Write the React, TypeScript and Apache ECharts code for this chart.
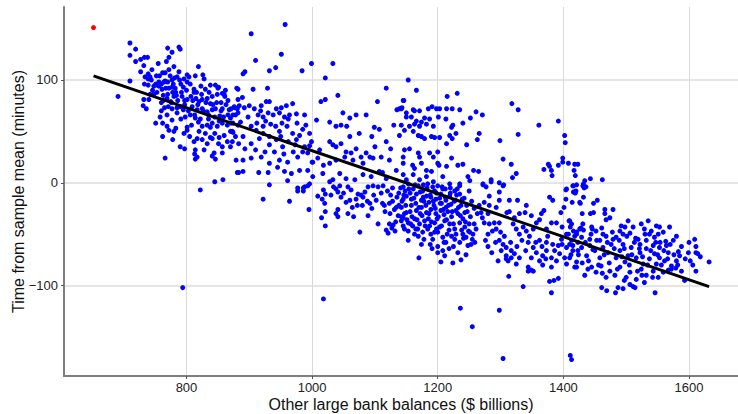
import React, { useEffect, useRef } from "react";
import * as echarts from "echarts";

// x: other large bank balances ($ billions), y: time from sample mean (minutes)
const xTicks = [800, 1000, 1200, 1400, 1600];
const yTicks = [-100, 0, 100];

const redPoint = [[652, 151]];

const fitLine = [[652, 104], [1632, -101]];

const pointsA = [
  [710,136],[719,130],[710,124],[719,118],[727,120],[733,122],[738,122],[732,114],[755,116],[770,131],
  [777,127],[788,132],[790,130],[772,122],[768,118],[780,113],[772,110],[766,107],[762,107],[756,98],
  [710,99],[691,84],[739,106],[739,101],[742,103],[734,103],[733,96],[739,95],[751,96],[754,95],
  [746,90],[742,86],[732,81],[740,81],[731,75],[736,72],[756,94],[761,91],[764,98],[766,99],
  [772,92],[777,93],[782,92],[777,100],[781,102],[785,103],[789,100],[796,101],[769,82],[775,79],
  [780,84],[784,85],[765,73],[771,74],[777,72],[785,73],[790,74],[795,71],[758,64],[769,66],
  [777,61],[785,68],[798,64],[751,58],[769,55],[772,51],[783,53],[762,45],[780,50],[796,48],
  [790,35],[797,33],[766,24],[760,78],[748,86],[792,88],[786,80],[778,88],[763,85],[770,98],
  [795,93],[797,80],[791,62],[760,70],[745,110],[727,108],[752,104],[794,-102]
];

const pointsB = [
  [801,105],[804,103],[819,113],[814,104],[826,105],[828,101],[801,98],[801,81],[807,84],[815,82],
  [820,79],[825,81],[812,91],[823,94],[830,91],[838,95],[846,95],[851,93],[833,82],[841,84],
  [849,86],[857,87],[861,84],[809,74],[817,71],[825,72],[833,69],[841,71],[846,72],[857,72],
  [868,71],[876,74],[881,72],[806,66],[814,63],[819,59],[825,55],[833,56],[841,58],[849,55],
  [857,58],[865,56],[801,51],[801,54],[812,40],[817,43],[825,42],[814,32],[813,28],[817,25],
  [814,23],[828,32],[833,38],[841,43],[851,38],[857,35],[865,40],[844,29],[841,26],[846,23],
  [857,29],[870,35],[873,40],[881,10],[845,1],[858,3],[822,-7],[873,50],[878,45],[882,56],
  [877,73],[882,81],[860,86],[862,90],[850,92],[880,92],[882,91],[889,83],[890,106],[893,108],
  [883,10],[890,11],[871,72],[884,75],[892,73],[874,66],[882,68],[898,64],[871,58],[886,59],
  [874,49],[890,45],[883,38],[893,33],[879,22],[890,22],[835,62],[853,65],[870,63],[830,48],
  [845,48],[860,46],[838,77],[855,78],[812,88],[808,56],[836,88],[866,80]
];

const pointsC = [
  [903,145],[957,154],[951,125],[910,119],[932,109],[942,112],[984,109],[999,116],[906,91],[929,92],
  [900,75],[908,72],[919,75],[927,79],[932,79],[943,72],[951,73],[959,75],[969,77],[914,66],
  [922,64],[930,68],[938,66],[948,68],[956,64],[964,66],[975,67],[988,66],[903,55],[912,58],
  [922,55],[934,57],[942,55],[952,58],[960,55],[976,58],[990,56],[911,51],[922,48],[932,45],
  [948,50],[969,48],[980,46],[996,48],[903,38],[916,43],[932,37],[943,42],[953,35],[962,40],
  [973,37],[988,35],[985,30],[996,36],[903,24],[919,25],[932,19],[948,22],[961,20],[977,25],
  [993,29],[956,11],[967,9],[980,12],[993,12],[932,-2],[961,2],[977,-5],[988,-4],[996,-1],
  [922,-16],[964,-18],[977,-8],[986,-5],[986,-8],[993,-3],[995,-26],[940,30],[925,30],[955,28],
  [970,30],[910,32],[945,15],[930,10],[915,10],[962,62],[918,70],[926,60],[950,45],[985,52],
  [975,42],[999,40],[1000,20]
];

const pointsD = [
  [1033,116],[1021,102],[1041,85],[1014,79],[1021,81],[1104,79],[1118,92],[1145,80],[1135,71],[1139,72],
  [1143,73],[1150,64],[1007,61],[1028,59],[1049,68],[1060,63],[1070,66],[1086,66],[1038,55],[1046,56],
  [1055,55],[1099,54],[1107,52],[1130,56],[1012,32],[1028,40],[1033,37],[1038,35],[1046,38],[1054,30],
  [1062,29],[1070,33],[1078,25],[1086,29],[1092,25],[1009,24],[1018,17],[1001,20],[1028,19],[1038,22],
  [1052,25],[1065,22],[1081,19],[1097,24],[1110,25],[1123,22],[1145,25],[1001,6],[1017,9],[1033,3],
  [1044,9],[1054,4],[1068,3],[1081,8],[1094,6],[1107,11],[1118,4],[1134,12],[1145,8],[1009,-13],
  [1016,-16],[1021,-11],[1018,-7],[1015,-34],[1021,-28],[1021,-42],[1028,1],[1034,-4],[1038,-6],[1044,-3],
  [1041,-9],[1046,-14],[1041,-26],[1038,-30],[1041,-33],[1057,-30],[1066,-33],[1072,-22],[1076,-48],[1057,-4],
  [1062,-7],[1073,-11],[1078,-12],[1084,-9],[1089,-4],[1097,-3],[1105,-4],[1113,-3],[1054,-19],[1060,-17],
  [1070,-16],[1081,-14],[1092,-20],[1102,-17],[1115,-22],[1123,-20],[1134,-24],[1145,-16],[1089,-32],[1105,-40],
  [1118,-46],[1121,-49],[1132,-47],[1142,-37],[1147,-45],[1123,-40],[1129,-41],[1137,-32],[1142,-33],[1147,-30],
  [1018,-113],[1095,45],[1075,48],[1118,40],[1125,33],[1060,45],[1100,35],[1112,10],[1128,-5],[1138,-10],
  [1125,-12],[1110,-10],[1095,-25],[1088,-18]
];

const pointsE = [
  [1153,100],[1166,90],[1146,80],[1231,87],[1215,84],[1142,72],[1150,68],[1161,71],[1163,70],[1171,70],
  [1185,72],[1191,74],[1198,72],[1203,72],[1214,72],[1223,72],[1235,71],[1158,64],[1166,60],[1174,59],
  [1179,63],[1187,62],[1201,64],[1213,62],[1224,56],[1240,58],[1252,63],[1261,69],[1271,66],[1142,56],
  [1155,55],[1163,57],[1171,55],[1182,57],[1193,55],[1222,54],[1139,46],[1147,51],[1161,50],[1169,46],
  [1174,45],[1179,43],[1190,45],[1195,44],[1203,44],[1214,38],[1219,46],[1223,43],[1229,48],[1266,48],
  [1263,42],[1246,37],[1147,32],[1155,33],[1169,29],[1171,25],[1187,29],[1193,25],[1200,30],[1145,19],
  [1160,17],[1163,14],[1174,19],[1182,12],[1190,11],[1200,19],[1202,17],[1214,16],[1222,24],[1232,17],
  [1240,18],[1248,6],[1257,12],[1265,11],[1150,3],[1161,8],[1171,3],[1182,6],[1193,1],[1208,6],
  [1219,-1],[1235,-1],[1251,2],[1272,-1],
  [1145,-4],[1153,-1],[1161,-6],[1169,-3],[1176,-8],[1184,-1],[1192,-4],[1200,-3],[1208,-6],[1150,-13],
  [1158,-16],[1166,-11],[1174,-17],[1182,-13],[1189,-14],[1197,-16],[1205,-11],[1213,-17],[1219,-13],[1227,-8],
  [1235,-3],[1235,-11],[1142,-24],[1150,-29],[1158,-22],[1166,-27],[1174,-24],[1182,-29],[1189,-26],[1197,-30],
  [1205,-27],[1213,-24],[1221,-21],[1229,-27],[1237,-22],[1243,-29],[1145,-34],[1153,-39],[1163,-35],[1171,-40],
  [1179,-37],[1187,-42],[1195,-39],[1203,-43],[1211,-37],[1219,-40],[1227,-45],[1235,-39],[1243,-43],[1251,-48],
  [1153,-47],[1163,-50],[1169,-52],[1153,-56],[1189,-50],[1200,-48],[1208,-53],[1213,-58],[1227,-55],[1235,-58],
  [1245,-53],[1253,-60],[1191,-64],[1200,-62],[1208,-66],[1211,-71],[1205,-77],[1224,-78],[1237,-75],[1170,-73],
  [1248,-61],[1148,-8],[1156,-10],[1165,-20],[1172,-30],[1178,-18],[1186,-19],[1194,-22],[1199,-35],[1206,-20],
  [1210,-31],[1216,-28],[1222,-33],[1228,-17],[1232,-30],[1240,-35],[1246,-22],[1250,-40],[1160,-42],[1168,-45],
  [1176,-48],[1184,-45],[1192,-55],[1198,-45],[1215,-50],[1225,-62],[1240,-50],[1255,-55],[1185,-35],[1177,-2],
  [1195,-8],[1203,-15],[1212,-6],[1220,-5],[1230,-12],[1242,-15],[1250,-8],[1258,-25],[1258,-40]
];

const pointsF = [
  [1318,77],[1328,71],[1299,41],[1328,47],[1304,23],[1317,18],[1325,9],[1319,5],[1285,3],[1298,0],
  [1305,-2],[1361,56],[1392,60],[1402,46],[1403,39],[1399,24],[1399,20],[1369,13],[1376,18],[1378,16],
  [1381,12],[1382,7],[1392,17],[1408,19],[1418,18],[1423,18],[1417,12],[1419,7],[1416,-3],[1421,-2],
  [1405,-6],[1443,4],[1462,3],[1432,-1],[1436,-4],[1433,-5],
  [1236,-122],[1255,-140],[1298,-124],[1304,-171],[1336,-101],[1381,-107],[1378,-96],[1385,-95],[1392,-93],[1411,-168],
  [1413,-172],[1313,-91],[1344,-86],[1352,-86],[1296,-76],[1309,-74],[1317,-73],[1280,-62],
  [1272,-2],[1285,1],[1304,-3],[1266,-22],[1269,-29],[1271,-34],[1280,-30],[1282,-22],[1293,-24],[1298,-17],
  [1314,-17],[1310,-29],[1298,-39],[1290,-39],[1282,-40],[1274,-39],[1280,-50],[1287,-47],[1293,-45],[1298,-56],
  [1304,-60],[1309,-63],[1317,-66],[1301,-66],[1309,-71],[1322,-69],[1330,-73],[1325,-79],[1312,-76],[1320,-40],
  [1325,-45],[1330,-50],[1336,-43],[1341,-47],[1346,-52],[1352,-45],[1344,-58],[1352,-63],[1357,-68],[1349,-73],
  [1362,-76],[1367,-71],[1373,-66],[1381,-73],[1389,-76],[1394,-69],[1402,-73],[1405,-79],[1410,-73],[1418,-82],
  [1421,-77],[1381,-82],[1367,-80],[1344,-82],[1349,-85],[1362,-56],[1373,-58],[1383,-60],[1392,-61],[1405,-63],
  [1415,-61],[1423,-66],[1375,-52],[1397,-55],[1413,-56],[1322,-34],[1330,-30],[1339,-29],[1349,-32],[1357,-39],
  [1365,-30],[1369,-27],[1362,-36],[1314,-28],[1378,-14],[1383,-17],[1401,-24],[1396,-29],[1404,-16],[1404,-7],
  [1415,-3],[1419,-10],[1414,-19],[1426,-19],[1409,-37],[1411,-43],[1398,-43],[1389,-39],[1381,-39],[1405,-50],
  [1421,-50],[1282,-13],[1274,-19],[1298,-9],[1277,-4],[1327,-17],[1341,-22],[1373,-45]
];

const pointsG = [
  [1431,-3],[1434,2],[1416,-9],[1420,-8],[1432,-14],[1427,-20],[1430,-30],[1443,-30],[1448,-29],[1448,-20],
  [1454,-17],[1466,-26],[1479,-26],[1466,-30],[1468,-36],[1410,-37],[1413,-40],[1431,-40],[1426,-45],[1432,-46],
  [1445,-43],[1446,-45],[1452,-47],[1463,-50],[1416,-47],[1421,-48],[1492,-42],[1498,-43],[1495,-50],[1506,-49],
  [1515,-54],[1519,-55],[1537,-50],[1540,-47],[1545,-53],[1553,-43],[1551,-50],[1554,-58],[1563,-57],[1575,-56],
  [1609,-55],[1611,-62],[1599,-68],[1611,-68],[1614,-69],[1602,-76],[1632,-77],[1611,-86],[1583,-67],[1593,-95],
  [1579,-83],[1572,-84],[1567,-85],[1553,-73],[1546,-107],[1461,-102],[1469,-105],[1483,-107],[1487,-102],[1495,-103],
  [1497,-95],[1506,-99],[1511,-101],[1514,-102],[1529,-97],
  [1410,-60],[1415,-66],[1423,-58],[1429,-63],[1437,-71],[1442,-61],[1450,-66],[1458,-73],[1463,-63],[1471,-68],
  [1476,-60],[1484,-73],[1490,-66],[1498,-77],[1503,-71],[1508,-63],[1516,-73],[1522,-68],[1527,-79],[1532,-64],
  [1537,-74],[1545,-69],[1548,-79],[1553,-63],[1561,-76],[1567,-68],[1572,-81],[1580,-76],[1585,-71],
  [1421,-82],[1434,-90],[1439,-84],[1452,-87],[1460,-81],[1468,-92],[1474,-86],[1482,-90],[1490,-82],[1500,-92],
  [1506,-87],[1516,-94],[1524,-84],[1532,-90],[1543,-86],[1551,-92],[1559,-87],
  [1474,-34],[1484,-53],[1490,-47],[1503,-37],[1511,-43],[1524,-40],[1529,-45],[1535,-37],[1548,-42],[1559,-48],
  [1569,-43],[1580,-52],[1564,-61],[1543,-61],[1532,-56],[1522,-60],[1495,-60],[1479,-55],[1468,-52],[1458,-56],
  [1442,-55],[1429,-53]
];

const pointsCoreMid = [
  [1112,-20],[1116,-28],[1120,-8],[1124,-30],[1128,-18],[1131,-26],[1135,-14],[1138,-22],[1141,-5],[1143,-18],
  [1146,-12],[1149,-22],[1151,-36],[1154,-6],[1156,-28],[1159,-33],[1162,-15],[1164,-2],[1167,-36],[1170,-24],
  [1172,-9],[1175,-32],[1177,-14],[1180,-42],[1181,-22],[1183,-5],[1186,-30],[1188,-12],[1190,-38],[1193,-18],
  [1196,-25],[1198,-10],[1201,-33],[1204,-20],[1206,-42],[1207,-4],[1209,-26],[1212,-14],[1214,-36],[1217,-22],
  [1218,-46],[1220,-10],[1223,-28],[1225,-40],[1226,-18],[1229,-50],[1231,-6],[1233,-24],[1236,-32],[1238,-46],
  [1239,-16],[1241,-54],[1244,-38],[1247,-28],[1249,-47],[1252,-33],[1254,-18],[1256,-50],[1259,-58],[1261,-45],
  [1263,-30],[1165,-45],[1178,-55],[1195,-48],[1210,-58],[1222,-52],[1188,-60],[1157,-40],[1145,-42],[1133,-38],
  [1127,-44],[1174,-60],[1200,-68],[1218,-64],[1232,-68],[1245,-70],
  [1276,-56],[1286,-68],[1292,-58],[1300,-48],[1306,-52],[1316,-58],[1326,-62],[1334,-56],[1340,-66],[1356,-58],
  [1366,-62],[1372,-74],[1386,-66],[1398,-60],[1020,-20],[1030,-12],[1050,-10],[1064,-24],[1080,-22],[1098,-12]
];

const pointsCoreRight = [
  [1418,-52],[1424,-70],[1428,-44],[1435,-58],[1440,-76],[1444,-50],[1447,-65],[1453,-56],[1456,-80],[1461,-44],
  [1465,-70],[1470,-58],[1473,-78],[1478,-48],[1481,-64],[1486,-84],[1489,-56],[1493,-72],[1497,-64],[1501,-52],
  [1505,-80],[1509,-70],[1513,-58],[1518,-86],[1521,-64],[1526,-72],[1530,-50],[1534,-80],[1539,-66],[1542,-92],
  [1547,-58],[1550,-70],[1556,-80],[1560,-66],[1566,-74],[1570,-60],[1576,-70],[1582,-80],[1588,-62],[1594,-74],
  [1600,-58],[1606,-80],[1618,-72],[1588,-86],[1525,-90],[1462,-88],[1445,-82],[1430,-78],[1412,-70],[1408,-50]
];

const pointsCoreLeft = [
  [744,100],[748,94],[753,88],[757,104],[760,96],[763,80],[767,92],[770,86],[774,104],[776,78],
  [779,96],[783,88],[786,74],[788,108],[791,96],[793,84],[797,76],[800,90],[803,70],[806,96],
  [810,80],[813,66],[816,88],[818,76],[822,62],[824,86],[827,70],[831,78],[835,66],[838,54],
  [842,76],[845,64],[848,78],[852,60],[855,70],[859,64],[863,76],[866,66],[870,50],[874,58],
  [878,66],[762,58],[778,42],[805,45],[820,50],[838,44],[852,44]
];

const FONT = "Liberation Sans";

export default function App() {
  const ref = useRef<HTMLDivElement>(null);
  useEffect(() => {
    if (!ref.current) return;
    const chart = echarts.init(ref.current, null, { renderer: "svg" });
    const blue = [
      ...pointsA, ...pointsB, ...pointsC, ...pointsD, ...pointsE, ...pointsF, ...pointsG,
      ...pointsCoreMid, ...pointsCoreRight, ...pointsCoreLeft,
    ];
    const plain = (v: number) => (v < 0 ? "\u2212" + String(-v) : String(v));
    chart.setOption({
      animation: false,
      backgroundColor: "#ffffff",
      grid: {
        left: 64, right: 0, top: 7, bottom: 38,
        containLabel: false,
        outerBoundsMode: "none",
      },
      xAxis: {
        type: "value",
        min: 605,
        max: 1678,
        name: "Other large bank balances ($ billions)",
        nameLocation: "middle",
        nameGap: 20,
        nameMoveOverlap: false,
        nameTextStyle: { fontFamily: FONT, fontSize: 16, color: "#111" },
        axisLine: { show: true, onZero: false, lineStyle: { color: "#7f7f7f", width: 2 } },
        axisTick: { show: true, length: 3, customValues: xTicks, lineStyle: { color: "#555" } },
        axisLabel: { customValues: xTicks, formatter: plain, fontFamily: FONT, fontSize: 13, color: "#222", margin: 5 },
        splitLine: { show: true, lineStyle: { color: "#d9d9d9", width: 1 } },
      },
      yAxis: {
        type: "value",
        min: -188,
        max: 171,
        name: "Time from sample mean (minutes)",
        nameLocation: "middle",
        nameGap: 38,
        nameMoveOverlap: false,
        nameTextStyle: { fontFamily: FONT, fontSize: 16, color: "#111" },
        axisLine: { show: true, onZero: false, lineStyle: { color: "#7f7f7f", width: 2 } },
        axisTick: { show: true, length: 3, customValues: yTicks, lineStyle: { color: "#555" } },
        axisLabel: { customValues: yTicks, formatter: plain, fontFamily: FONT, fontSize: 13, color: "#222", margin: 6 },
        splitLine: { show: true, lineStyle: { color: "#dcdcdc", width: 1.5 } },
      },
      series: [
        {
          type: "scatter",
          data: blue,
          symbol: "circle",
          symbolSize: 5,
          itemStyle: { color: "#0000ff", opacity: 1 },
          silent: true,
        },
        {
          type: "scatter",
          data: redPoint,
          symbol: "circle",
          symbolSize: 5,
          itemStyle: { color: "#ff0000", opacity: 1 },
          silent: true,
        },
        {
          type: "line",
          data: fitLine,
          showSymbol: false,
          symbol: "none",
          lineStyle: { color: "#000000", width: 3 },
          silent: true,
        },
      ],
    });
    return () => chart.dispose();
  }, []);
  return (
    <div
      ref={ref}
      style={{ position: "fixed", left: 0, top: 0, width: 738, height: 414, background: "#fff" }}
    />
  );
}
